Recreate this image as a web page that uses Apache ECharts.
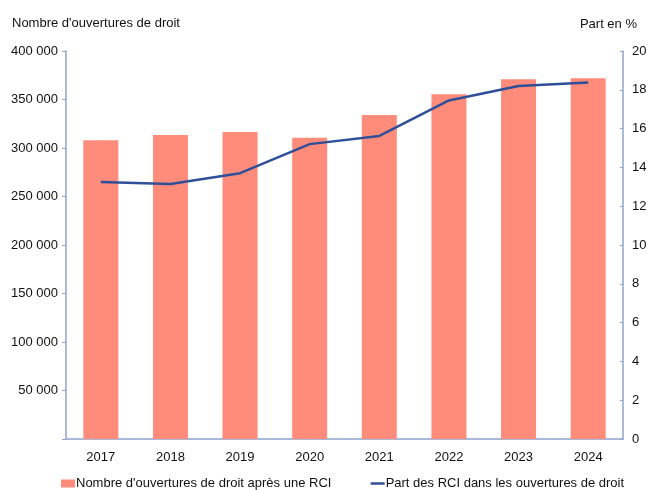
<!DOCTYPE html>
<html>
<head>
<meta charset="utf-8">
<script src="https://cdn.jsdelivr.net/npm/echarts@6/dist/echarts.min.js"></script>
<style>html,body{margin:0;padding:0;background:#fff}#c{width:650px;height:490px}</style>
</head>
<body>
<div id="c"></div>
<script>
var years = ['2017','2018','2019','2020','2021','2022','2023','2024'];
var ouvertures = [308000, 313500, 316500, 310500, 334000, 355500, 370800, 371800];
var partRCI = [13.25, 13.14, 13.7, 15.2, 15.62, 17.45, 18.2, 18.37];
var barName = "Nombre d'ouvertures de droit après une RCI";
var lineName = "Part des RCI dans les ouvertures de droit";
var leftTitle = "Nombre d'ouvertures de droit";
var rightTitle = "Part en %";

var font = 'Liberation Sans, Arial, sans-serif';
var axisCol = '#8fa3cc';
var chart = echarts.init(document.getElementById('c'), null, {renderer: 'canvas'});
chart.setOption({
  animation: false,
  textStyle: {fontFamily: font},
  grid: {left: 66, right: 27, top: 51, bottom: 51, containLabel: false},
  legend: {
    top: 472, left: 56, itemGap: 38, itemWidth: 14, itemHeight: 8,
    textStyle: {fontFamily: font, fontSize: 13, color: '#111', padding: [0,0,0,-4]},
    data: [
      {name: barName, icon: 'rect'},
      {name: lineName, itemStyle: {opacity: 0}, lineStyle: {color: '#2f4f98', width: 2.5}}
    ]
  },
  graphic: [
    {type: 'text', left: 12, top: 17, style: {text: leftTitle, font: '13px ' + font, fill: '#111'}},
    {type: 'text', right: 13, top: 18, style: {text: rightTitle, font: '13px ' + font, fill: '#111'}}
  ],
  xAxis: {
    type: 'category', data: years, boundaryGap: true,
    axisLine: {lineStyle: {color: axisCol, width: 1.5}},
    axisTick: {show: false},
    axisLabel: {fontSize: 13, color: '#111', margin: 12, fontFamily: font}
  },
  yAxis: [
    {
      type: 'value', min: 0, max: 400000, interval: 50000, position: 'left',
      splitLine: {show: false},
      axisLine: {show: true, lineStyle: {color: axisCol, width: 1.5}},
      axisTick: {show: true, length: 4, lineStyle: {color: axisCol}},
      axisLabel: {fontSize: 13, color: '#111', margin: 8, fontFamily: font,
        formatter: function (v) { return v === 0 ? '' : String(v).replace(/\B(?=(\d{3})+(?!\d))/g, ' '); }}
    },
    {
      type: 'value', min: 0, max: 20, interval: 2, position: 'right',
      splitLine: {show: false},
      axisLine: {show: true, lineStyle: {color: axisCol, width: 1.5}},
      axisTick: {show: true, inside: true, length: 3, lineStyle: {color: axisCol}},
      axisLabel: {fontSize: 13, color: '#111', margin: 9, fontFamily: font}
    }
  ],
  series: [
    {
      name: barName, type: 'bar', data: ouvertures, yAxisIndex: 0, barWidth: 35,
      itemStyle: {color: '#ff8b7b'}
    },
    {
      name: lineName, type: 'line', data: partRCI, yAxisIndex: 1,
      symbol: 'none', lineStyle: {color: '#2f4f98', width: 2.5},
      itemStyle: {color: '#2f4f98'}
    }
  ]
});
</script>
</body>
</html>
